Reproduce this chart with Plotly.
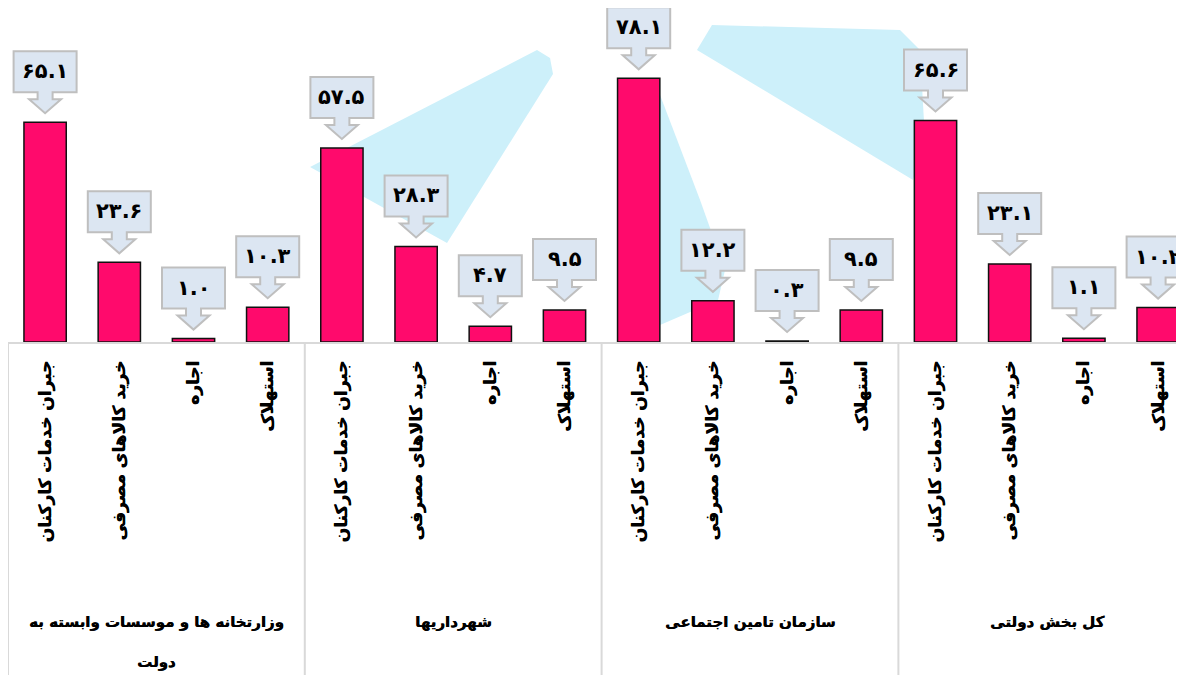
import plotly.graph_objects as go

# categories and values (percent shares)
groups = ["وزارتخانه ها و موسسات وابسته به<br>دولت", "شهرداریها", "سازمان تامین اجتماعی", "کل بخش دولتی"]
items = ["جبران خدمات کارکنان", "خرید کالاهای مصرفی", "اجاره", "استهلاک"]
ministries = [65.1, 23.6, 1.0, 10.3]
municipalities = [57.5, 28.3, 4.7, 9.5]
social_security = [78.1, 12.2, 0.3, 9.5]
public_sector = [65.6, 23.1, 1.1, 10.2]

series = [ministries, municipalities, social_security, public_sector]
values = [v for s in series for v in s]
x_pos = list(range(len(values)))
tick_text = items * len(groups)

FA_DIGITS = str.maketrans("0123456789", "۰۱۲۳۴۵۶۷۸۹")


def to_fa(v):
    return f"{v:.1f}".translate(FA_DIGITS)


FONT = "DejaVu Sans"
HEAVY = "0.5px 0px 0px black"  # thickens the Arabic glyphs a little
# the page body adds an 8px offset, so the plot area starts at page (8, 8)
PLOT_W, PLOT_H = 1184, 334
X_MIN, X_MAX = -0.5, -0.5 + PLOT_W / 74.2


def xpaper(xd):
    return (xd - X_MIN) / (X_MAX - X_MIN)


def px_path(points):
    # background watermark outline, given in page pixels
    pts = [((x - 8) / PLOT_W, (342 - y) / PLOT_H) for x, y in points]
    return "M" + " L".join(f"{a:.4f},{b:.4f}" for a, b in pts) + " Z"


fig = go.Figure()

fig.add_trace(go.Bar(
    x=x_pos,
    y=values,
    width=0.57,
    marker=dict(color="#FF0A6C", line=dict(color="#111111", width=1.5)),
    hoverinfo="y",
))

shapes = []

# faint logo watermark behind the chart
for poly in [
    [(310, 167), (537, 50), (550, 58), (553, 74), (447, 243)],
    [(697, 50), (712, 25), (900, 30), (920, 50), (925, 140), (913, 180)],
    [(660, 95), (700, 200), (725, 270), (718, 300), (660, 325)],
]:
    shapes.append(dict(type="path", xref="paper", yref="paper", path=px_path(poly),
                       fillcolor="#CDF0FA", line=dict(width=0), layer="below"))

# callout boxes with down arrows above each bar
callout = ("M-31.5,30 L-31.5,71 L31.5,71 L31.5,30 L7.5,30 L7.5,23 L16,23 "
           "L0,9 L-16,23 L-7.5,23 L-7.5,30 Z")
for xi, v in zip(x_pos, values):
    shapes.append(dict(type="path", xref="x", yref="y", xsizemode="pixel", ysizemode="pixel",
                       xanchor=xi, yanchor=v, path=callout,
                       fillcolor="#DCE6F2", line=dict(color="#BFBFBF", width=2)))

# group separators below the axis
for k in range(len(groups)):
    xs = xpaper(k * len(items) - 0.5)
    shapes.append(dict(type="line", xref="paper", yref="paper", x0=xs, x1=xs, y0=0, y1=-1,
                       line=dict(color="#D9D9D9", width=2)))

annotations = []
for xi, v in zip(x_pos, values):
    annotations.append(dict(x=xi, y=v, xref="x", yref="y", text=to_fa(v), showarrow=False,
                            yshift=51, font=dict(family=FONT, size=21, color="black", weight="bold")))

for k, name in enumerate(groups):
    xc = xpaper(k * len(items) + (len(items) - 1) / 2)
    for j, line in enumerate(name.split("<br>")):
        annotations.append(dict(x=xc, y=0, xref="paper", yref="paper", text=line, showarrow=False,
                                xanchor="center", yanchor="middle", yshift=-(280 + 40 * j),
                                font=dict(family=FONT, size=15, color="black", weight="bold",
                                          shadow=HEAVY)))

fig.update_layout(
    width=1184,
    height=675,
    margin=dict(l=0, r=0, t=0, b=675 - PLOT_H),
    paper_bgcolor="white",
    plot_bgcolor="rgba(0,0,0,0)",
    showlegend=False,
    shapes=shapes,
    annotations=annotations,
    xaxis=dict(
        range=[X_MIN, X_MAX],
        tickmode="array",
        tickvals=x_pos,
        ticktext=tick_text,
        tickangle=-90,
        ticks="",
        ticklabelstandoff=10,
        showgrid=False,
        zeroline=False,
        showline=True,
        linecolor="#D9D9D9",
        linewidth=2,
        tickfont=dict(family=FONT, size=17, color="black", weight="bold", shadow=HEAVY),
    ),
    yaxis=dict(range=[0, PLOT_H / 3.376], visible=False),
)

fig.write_html("out.html")
